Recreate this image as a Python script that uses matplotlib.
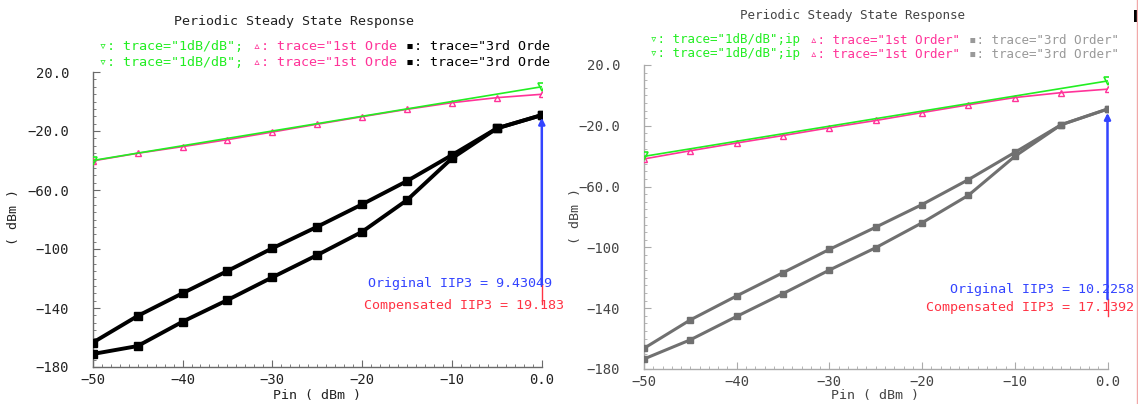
import matplotlib
matplotlib.use("Agg")
import matplotlib.pyplot as plt
from matplotlib.ticker import MultipleLocator, FixedLocator, FixedFormatter
from matplotlib.lines import Line2D
from matplotlib.patches import Rectangle

W, H = 1138, 404
DPI = 100

# Input power sweep (dBm)
pin = [-50, -45, -40, -35, -30, -25, -20, -15, -10, -5, 0]
ref_pin = [-50, 0]

# Left plot: original design
left_ref = [-40.0, 10.0]
left_first = [-40.3, -35.1, -30.6, -25.9, -20.7, -15.4, -10.3, -5.3, -0.8, 2.6, 4.9]
left_third_a = [-163.5, -145.4, -130.0, -114.9, -99.5, -84.9, -69.7, -53.9, -36.3, -18.2, -9.2]
left_third_b = [-171.2, -165.8, -149.3, -134.6, -119.2, -104.1, -88.3, -66.8, -38.5, -18.2, -9.2]
left_arrow = [-124.0, -11.0]
left_red_seg = [-124.0, -137.0]
left_iip3_orig = "9.43049"
left_iip3_comp = "19.183"

# Right plot: second run
right_ref = [-40.1, 9.5]
right_first = [-41.8, -36.4, -31.3, -26.4, -21.3, -16.5, -11.3, -6.2, -1.4, 1.8, 4.1]
right_third_a = [-166.4, -147.7, -131.9, -116.6, -101.3, -86.7, -71.8, -55.4, -37.5, -19.3, -9.0]
right_third_b = [-173.4, -160.8, -145.4, -130.4, -114.9, -100.2, -83.8, -65.7, -40.1, -19.3, -9.0]
right_arrow = [-134.0, -11.5]
right_red_seg = [-134.0, -145.0]
right_iip3_orig = "10.2258"
right_iip3_comp = "17.1392"

yticks = [-180, -140, -100, -60, -20, 20]
ytick_labels = ["\u2212180", "\u2212140", "\u2212100", "\u221260.0", "\u221220.0", "20.0"]
xticks = [-50, -40, -30, -20, -10, 0]
xtick_labels = ["\u221250", "\u221240", "\u221230", "\u221220", "\u221210", "0.0"]

GREEN = "#22ee22"
PINK = "#ff3399"
BLUE = "#3344ff"
RED = "#ff3344"
FONT = ["DejaVu Sans Mono", "DejaVu Sans"]
plt.rcParams["font.family"] = FONT

fig = plt.figure(figsize=(W / DPI, H / DPI), dpi=DPI)
fig.patch.set_facecolor("white")


def px_ax(x0, x1, ytop, ybot):
    return fig.add_axes([x0 / W, 1 - ybot / H, (x1 - x0) / W, (ybot - ytop) / H])


def ftext(x, y, s, **kw):
    fig.text(x / W, 1 - y / H, s, **kw)


def style_axes(ax, spine_color, label_color, fs):
    ax.set_xlim(-50, 0)
    ax.set_ylim(-180, 20)
    for side in ("top", "right"):
        ax.spines[side].set_visible(False)
    for side in ("left", "bottom"):
        ax.spines[side].set_color(spine_color)
        ax.spines[side].set_linewidth(1.0)
    ax.xaxis.set_major_locator(FixedLocator(xticks))
    ax.xaxis.set_major_formatter(FixedFormatter(xtick_labels))
    ax.yaxis.set_major_locator(FixedLocator(yticks))
    ax.yaxis.set_major_formatter(FixedFormatter(ytick_labels))
    ax.xaxis.set_minor_locator(MultipleLocator(1))
    ax.yaxis.set_minor_locator(MultipleLocator(5))
    ax.tick_params(axis="both", which="major", direction="in", length=5,
                   color=spine_color, labelcolor=label_color, labelsize=fs)
    ax.tick_params(axis="both", which="minor", direction="in", length=2.5,
                   color=spine_color)
    ax.tick_params(axis="y", which="major", pad=17)
    ax.tick_params(axis="x", which="major", pad=4)
    ax.set_facecolor("none")


def draw_panel(ax, ref, first, third_a, third_b, arrow, red_seg, third_color, lw3, ms3):
    ax.plot(pin, first, color=PINK, lw=1.2, marker="^", ms=5, mfc="none",
            mec=PINK, mew=1.0, zorder=3)
    ax.plot(ref_pin, ref, color=GREEN, lw=1.2, marker="v", ms=6, mfc="none",
            mec=GREEN, mew=1.2, zorder=4)
    ax.plot(pin, third_a, color=third_color, lw=lw3, marker="s", ms=ms3,
            solid_joinstyle="round", zorder=3)
    ax.plot(pin, third_b, color=third_color, lw=lw3, marker="s", ms=ms3,
            solid_joinstyle="round", zorder=3)
    ax.plot([0, 0], red_seg, color=RED, lw=1.0, zorder=4, clip_on=False)
    ax.annotate("", xy=(0, arrow[1]), xytext=(0, arrow[0]),
                arrowprops=dict(arrowstyle="-|>", color=BLUE, lw=1.8,
                                mutation_scale=9, shrinkA=0, shrinkB=0),
                zorder=5, annotation_clip=False)


# ---- left plot ----
axL = px_ax(92.7, 541.8, 72, 367)
style_axes(axL, "#6a6a6a", "#222222", 10)
draw_panel(axL, left_ref, left_first, left_third_a, left_third_b,
           left_arrow, left_red_seg, "black", 2.8, 6)

ftext(294, 21, "Periodic Steady State Response", ha="center", va="center",
      fontsize=9.6, color="#222222")
row = [("\u25bf: trace=\"1dB/dB\"; ", GREEN), ("\u25b5: trace=\"1st Orde ", PINK),
       ("\u25aa: trace=\"3rd Orde", "black")]
for yy in (47, 62):
    x = 99
    for s, c in row:
        t = fig.text(x / W, 1 - yy / H, s, ha="left", va="center", fontsize=9.6, color=c)
        x += len(s) * 8.08
ftext(14, 217, "( dBm )", rotation=90, ha="center", va="center", fontsize=9.6,
      color="#222222")
ftext(317, 395, "Pin ( dBm )", ha="center", va="center", fontsize=9.6, color="#222222")
ftext(552, 284, "Original IIP3 = " + left_iip3_orig, ha="right", va="center",
      fontsize=9.6, color=BLUE)
ftext(564, 305, "Compensated IIP3 = " + left_iip3_comp, ha="right", va="center",
      fontsize=9.6, color=RED)

# ---- right plot ----
axR = px_ax(644, 1107.5, 65, 369)
style_axes(axR, "#aaaaaa", "#444444", 10)
draw_panel(axR, right_ref, right_first, right_third_a, right_third_b,
           right_arrow, right_red_seg, "#707070", 2.2, 5)

ftext(853, 16, "Periodic Steady State Response", ha="center", va="center",
      fontsize=9.0, color="#444444")
rowR = [("\u25bf: trace=\"1dB/dB\";ip ", GREEN), ("\u25b5: trace=\"1st Order\" ", PINK),
        ("\u25aa: trace=\"3rd Order\"", "#999999")]
for yy in (40, 54):
    x = 650
    for s, c in rowR:
        fig.text(x / W, 1 - yy / H, s, ha="left", va="center", fontsize=9.0, color=c)
        x += len(s) * 7.6
ftext(575, 216, "( dBm )", rotation=90, ha="center", va="center", fontsize=9.6,
      color="#444444")
ftext(875, 395, "Pin ( dBm )", ha="center", va="center", fontsize=9.6, color="#444444")
ftext(1134, 290, "Original IIP3 = " + right_iip3_orig, ha="right", va="center",
      fontsize=9.6, color=BLUE)
ftext(1134, 308, "Compensated IIP3 = " + right_iip3_comp, ha="right", va="center",
      fontsize=9.6, color=RED)

# window edge on the far right
fig.add_artist(Line2D([1136.5 / W, 1136.5 / W], [0, 1], color="#f2a8a8", lw=1.0))
fig.add_artist(Rectangle((1134 / W, 1 - 22 / H), 4 / W, 12 / H, color="black", lw=0))

fig.savefig("out.png", dpi=DPI, facecolor="white")
